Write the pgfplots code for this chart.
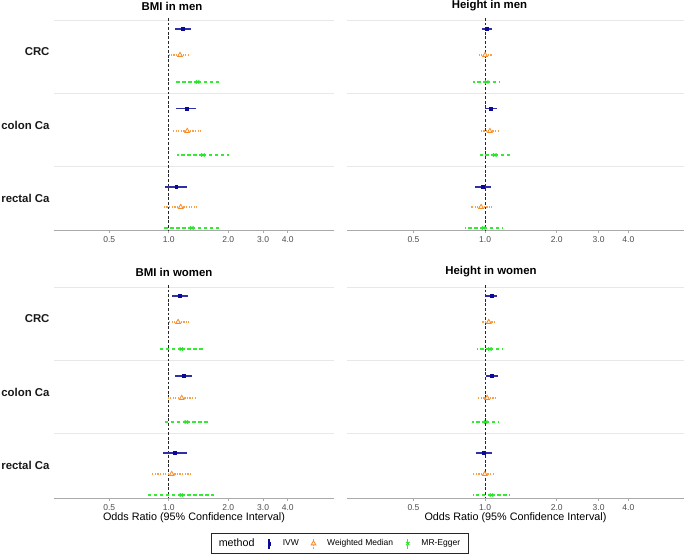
\documentclass[border=0pt]{standalone}
\usepackage{pgfplots}
\pgfplotsset{compat=1.18}
\usepackage{fontspec}
\setmainfont{Liberation Sans}

\definecolor{ivwc}{RGB}{10,10,150}
\definecolor{wmc}{RGB}{250,140,40}
\definecolor{wmci}{RGB}{250,160,70}
\definecolor{egc}{RGB}{40,225,40}
\definecolor{egci}{RGB}{50,235,50}
\definecolor{gridc}{RGB}{232,232,232}
\definecolor{axisc}{RGB}{170,170,170}

\pgfplotsset{
  every axis/.append style={
    scale only axis,
    xmin=0.263, xmax=6.85,
    y dir=reverse,
    ymin=-2,
    xtick={0.5,1,2,3,4},
    xticklabels={0.5,1.0,2.0,3.0,4.0},
    axis x line*=bottom,
    axis y line*=left,
    y axis line style={draw=none},
    x axis line style={draw=axisc, line width=0.7pt, -},
    tick align=outside,
    major tick length=3pt,
    xtick style={draw=axisc, line width=0.7pt},
    ytick style={draw=none},
    extra y ticks={0,73,146},
    extra y tick labels={},
    extra y tick style={grid=major, major grid style={draw=gridc, line width=0.9pt}},
    xticklabel style={font=\fontsize{8.5}{10}\selectfont, text=black!70, yshift=-0.5pt},
    yticklabel style={font=\fontsize{11.4}{13}\selectfont\bfseries, text=black!90, xshift=2pt},
    title style={font=\fontsize{11.4}{13}\selectfont\bfseries, anchor=center},
    xlabel style={font=\fontsize{10.8}{12}\selectfont, at={(0.5,-0.094)}, anchor=center},
    clip=false,
  },
  ivw/.style={only marks, color=ivwc, mark=square*, mark size=1.4pt,
    mark options={solid, line width=0.4pt}, line width=1.3pt,
    error bars/x dir=both, error bars/x explicit, error bars/error mark=none,
    error bars/error bar style={solid, line width=1.3pt, draw=ivwc!85},
    legend image code/.code={\path (-6pt,0pt) (11pt,0pt);
      \draw[##1, mark=none] (0pt,-5pt) -- (0pt,5pt);
      \draw[##1, only marks] plot coordinates {(0pt,0pt)};}},
  wm/.style={only marks, color=wmc, mark=triangle*, mark size=2.7pt,
    mark options={solid, line width=0.8pt, fill=white}, line width=1.3pt,
    dash pattern=on 1.3pt off 1.3pt,
    error bars/x dir=both, error bars/x explicit, error bars/error mark=none,
    error bars/error bar style={line width=1.3pt, draw=wmci, dash pattern=on 1.3pt off 1.3pt},
    legend image code/.code={\path (-6pt,0pt) (11pt,0pt);
      \draw[##1, mark=none, color=wmci] (0pt,-5pt) -- (0pt,5pt);
      \draw[##1, only marks] plot coordinates {(0pt,0pt)};}},
  eg/.style={only marks, color=egc, mark=x, mark size=2.3pt,
    mark options={solid, line width=1pt}, line width=1.3pt,
    dash pattern=on 3.5pt off 2.5pt,
    error bars/x dir=both, error bars/x explicit, error bars/error mark=none,
    error bars/error bar style={line width=1.3pt, draw=egci, dash pattern=on 3.5pt off 2.5pt},
    legend image code/.code={\path (-6pt,0pt) (11pt,0pt);
      \draw[##1, mark=none, color=egci] (0pt,-5pt) -- (0pt,5pt);
      \draw[##1, only marks] plot coordinates {(0pt,0pt)};}},
  refline/.style={black!85, line width=0.9pt, dash pattern=on 2.8pt off 1.8pt, forget plot},
}

\begin{document}
\begin{tikzpicture}
\path[use as bounding box] (0pt,0pt) rectangle (685pt,-557pt);

% BMI in men
\begin{axis}[xmode=log, at={(54pt,-230pt)}, anchor=south west,
  width=280pt, height=212pt, ymax=210,
  ytick={32,105,178}, yticklabels={CRC,colon Ca,rectal Ca},
  title={BMI in men}, title style={at={(0.4214,1.0283)}}]
\addplot[refline] coordinates {(1,-2) (1,210)};
\addplot[ivw] table[x=or, y=y, x error minus expr=\thisrow{or}-\thisrow{lo}, x error plus expr=\thisrow{hi}-\thisrow{or}] {
y or lo hi
9 1.175 1.07 1.30
88.5 1.23 1.09 1.38
167 1.09 0.96 1.24
};
\addplot[wm] table[x=or, y=y, x error minus expr=\thisrow{or}-\thisrow{lo}, x error plus expr=\thisrow{hi}-\thisrow{or}] {
y or lo hi
35 1.14 1.0 1.27
111 1.24 1.05 1.45
187 1.15 0.947 1.38
};
\addplot[eg] table[x=or, y=y, x error minus expr=\thisrow{or}-\thisrow{lo}, x error plus expr=\thisrow{hi}-\thisrow{or}] {
y or lo hi
62 1.40 1.07 1.82
135 1.49 1.105 2.02
208 1.31 0.925 1.85
};
\end{axis}

% Height in men
\begin{axis}[xmode=log, at={(347pt,-230pt)}, anchor=south west,
  width=337pt, height=212pt, ymax=210, ytick=\empty,
  title={Height in men}, title style={at={(0.4228,1.0283)}}]
\addplot[refline] coordinates {(1,-2) (1,210)};
\addplot[ivw] table[x=or, y=y, x error minus expr=\thisrow{or}-\thisrow{lo}, x error plus expr=\thisrow{hi}-\thisrow{or}] {
y or lo hi
9 1.016 0.968 1.074
88.5 1.057 1.0 1.12
167 0.977 0.907 1.057
};
\addplot[wm] table[x=or, y=y, x error minus expr=\thisrow{or}-\thisrow{lo}, x error plus expr=\thisrow{hi}-\thisrow{or}] {
y or lo hi
35 1.0 0.93 1.067
111 1.047 0.958 1.135
187 0.962 0.869 1.067
};
\addplot[eg] table[x=or, y=y, x error minus expr=\thisrow{or}-\thisrow{lo}, x error plus expr=\thisrow{hi}-\thisrow{or}] {
y or lo hi
62 1.016 0.892 1.158
135 1.10 0.952 1.289
208 0.987 0.82 1.18
};
\end{axis}

% BMI in women
\begin{axis}[xmode=log, at={(54pt,-498pt)}, anchor=south west,
  width=280pt, height=213pt, ymax=211,
  ytick={32,105,178}, yticklabels={CRC,colon Ca,rectal Ca},
  title={BMI in women}, title style={at={(0.4286,1.033)}},
  xlabel={Odds Ratio (95\% Confidence Interval)},
  legend style={at={(1.0196,-0.2136)}, anchor=center, legend columns=-1,
    draw=black!85, line width=0.6pt, inner xsep=6pt, inner ysep=3.5pt,
    font=\fontsize{8.5}{10}\selectfont,
    /tikz/every even column/.append style={column sep=6pt}}]
\addplot[refline] coordinates {(1,-2) (1,211)};
\addlegendimage{empty legend}
\addplot[ivw] table[x=or, y=y, x error minus expr=\thisrow{or}-\thisrow{lo}, x error plus expr=\thisrow{hi}-\thisrow{or}] {
y or lo hi
9 1.136 1.04 1.247
89 1.186 1.076 1.31
166 1.076 0.94 1.237
};
\addplot[wm] table[x=or, y=y, x error minus expr=\thisrow{or}-\thisrow{lo}, x error plus expr=\thisrow{hi}-\thisrow{or}] {
y or lo hi
35 1.115 0.988 1.27
111 1.163 0.996 1.374
187 1.035 0.824 1.30
};
\addplot[eg] table[x=or, y=y, x error minus expr=\thisrow{or}-\thisrow{lo}, x error plus expr=\thisrow{hi}-\thisrow{or}] {
y or lo hi
62 1.159 0.904 1.485
135 1.228 0.929 1.616
208 1.159 0.79 1.70
};
\legend{{\fontsize{10.7}{12}\selectfont method}, IVW, Weighted Median, MR-Egger}
\end{axis}

% Height in women
\begin{axis}[xmode=log, at={(347pt,-498pt)}, anchor=south west,
  width=337pt, height=213pt, ymax=211, ytick=\empty,
  title={Height in women}, title style={at={(0.4273,1.033)}},
  xlabel={Odds Ratio (95\% Confidence Interval)}]
\addplot[refline] coordinates {(1,-2) (1,211)};
\addplot[ivw] table[x=or, y=y, x error minus expr=\thisrow{or}-\thisrow{lo}, x error plus expr=\thisrow{hi}-\thisrow{or}] {
y or lo hi
9 1.064 1.006 1.117
89 1.067 1.006 1.13
166 0.987 0.916 1.067
};
\addplot[wm] table[x=or, y=y, x error minus expr=\thisrow{or}-\thisrow{lo}, x error plus expr=\thisrow{hi}-\thisrow{or}] {
y or lo hi
35 1.036 0.968 1.106
111 1.02 0.937 1.11
187 0.997 0.892 1.099
};
\addplot[eg] table[x=or, y=y, x error minus expr=\thisrow{or}-\thisrow{lo}, x error plus expr=\thisrow{hi}-\thisrow{or}] {
y or lo hi
62 1.047 0.922 1.184
135 1.006 0.881 1.143
208 1.064 0.892 1.268
};
\end{axis}
\end{tikzpicture}
\end{document}
